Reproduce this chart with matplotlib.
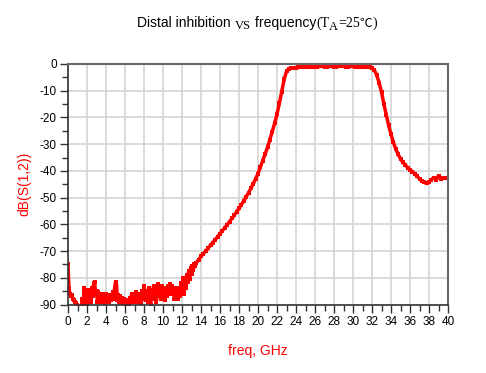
import numpy as np
import matplotlib
matplotlib.use('Agg')
import matplotlib.pyplot as plt
from matplotlib.ticker import MultipleLocator

# noisy stop band, 0 .. 13.4 GHz every 0.1 GHz
noise_freq = np.round(np.arange(0, 13.45, 0.1), 2)
noise_db = [
    -75, -84, -86, -87, -86.5, -88, -88.5, -89, -89.5, -90,
    -91, -91, -91, -91, -91, -88, -90, -84, -89, -85,
    -90, -84.5, -88, -85, -89, -84, -87, -82, -81.5, -86,
    -85, -89, -85.5, -88, -86, -89, -86.5, -88, -86, -89.5,
    -86, -88, -87, -89, -86.5, -88.5, -87, -85.5, -88, -84,
    -81.5, -82, -88.5, -86.5, -89, -87, -89.5, -87.5, -89, -88,
    -90, -88.5, -90, -89, -90, -87.5, -89, -86, -88, -86.5,
    -89, -87, -85.5, -88, -86, -89, -86.5, -89.5, -85, -88,
    -83, -86, -88.5, -85, -89, -84, -87, -90, -84.5, -88,
    -83, -87, -84, -89, -85, -82.5, -87, -84, -88, -83,
    -86, -84, -88.5, -84.5, -87, -83, -86, -82.5, -85.5, -83,
    -86, -84, -88, -84.5, -87.5, -84, -88, -84.5, -87, -82,
    -85, -80, -86, -81, -84, -79, -81.5, -77.5, -80.5, -76.5,
    -78.5, -75.5, -77, -75, -75.5,
]

# skirt, pass band and upper stop band, 13.5 .. 40 GHz every 0.25 GHz
band_freq = np.round(np.arange(13.5, 40.01, 0.25), 2)
band_db = [
    -74.5, -73.2, -72, -71, -70, -68.9, -67.8, -66.8, -65.7, -64.6,
    -63.5, -62.4, -61.3, -60.2, -59, -57.8, -56.6, -55.3, -54, -52.6,
    -51.2, -49.7, -48.2, -46.5, -44.8, -43, -41, -38.6, -36.2, -33.7,
    -31.2, -28.3, -25.3, -22.2, -18.8, -14.7, -10.3, -5.8, -2.8, -1.7,
    -1.5, -1.5, -1.4, -1.3, -1.2, -1.1, -1.05, -1.0, -1.0, -1.0,
    -0.95, -0.95, -0.9, -0.9, -0.95, -0.95, -0.9, -0.9, -0.95, -0.95,
    -0.9, -0.9, -0.9, -0.95, -0.95, -0.9, -0.9, -0.95, -0.95, -1.0,
    -1.0, -1.05, -1.15, -1.3, -1.6, -2.3, -4.2, -7, -10.5, -15,
    -19, -23, -26.3, -29.3, -31.8, -33.8, -35.5, -36.8, -37.8, -38.8,
    -39.6, -40.3, -41, -42, -43, -43.8, -44.3, -44.7, -44.2, -43.3,
    -42.5, -43.4, -41.8, -43.2, -42.7, -42.7, -42.7,
]

freq = np.concatenate([noise_freq, band_freq])
s12 = np.concatenate([noise_db, band_db])

plt.rcParams['axes.unicode_minus'] = False

red = '#ff0000'
sans = ['Liberation Sans', 'DejaVu Sans']
serif = ['Liberation Serif', 'Noto Sans CJK SC', 'DejaVu Serif']

fig = plt.figure(figsize=(4.86, 3.73), dpi=100)
ax = fig.add_axes([68 / 486, 1 - 304.5 / 373, 380 / 486, 240.5 / 373])

ax.plot(freq, s12, color=red, lw=2.5, marker='s', ms=2.3, mew=0)

ax.set_xlim(0, 40)
ax.set_ylim(-90, 0)
ax.xaxis.set_major_locator(MultipleLocator(2))
ax.xaxis.set_minor_locator(MultipleLocator(1))
ax.yaxis.set_major_locator(MultipleLocator(10))
ax.yaxis.set_minor_locator(MultipleLocator(5))
ax.grid(True, which='major', color='#d4d4d4', lw=1.2)
ax.set_axisbelow(True)

ax.tick_params(which='major', direction='out', length=6, width=1, colors='#333333', labelcolor='black', pad=2)
ax.tick_params(which='minor', direction='out', length=4, width=1, colors='#333333')
for lab in ax.get_xticklabels() + ax.get_yticklabels():
    lab.set_family(sans)
    lab.set_fontsize(8.5)

for side in ['left', 'bottom']:
    ax.spines[side].set_color('#333333')
    ax.spines[side].set_linewidth(1.2)
for side in ['top', 'right']:
    ax.spines[side].set_color('#666666')
    ax.spines[side].set_linewidth(1.5)

ax.set_xlabel('freq, GHz', color=red, family=sans, fontsize=10, labelpad=12)
ax.set_ylabel('dB(S(1,2))', color=red, family=sans, fontsize=10, labelpad=6)

# title made of pieces in two faces, as in the original
pieces = [
    ('Distal inhibition ', sans, 10, 0),
    ('VS', serif, 9, -2),
    (' frequency', sans, 10, 0),
    ('(T', serif, 10, 0),
    ('A', serif, 9, -3),
    ('=25', serif, 10, 0),
    ('\u2103', ['Noto Sans CJK SC', 'DejaVu Sans'], 9, 0),
    (')', serif, 10, 0),
]
renderer = fig.canvas.get_renderer()
texts = []
total = 0
for s, fam, size, dy in pieces:
    t = fig.text(0, 0, s, family=fam, fontsize=size, va='baseline')
    w = t.get_window_extent(renderer).width
    texts.append((t, w, dy))
    total += w
x0 = 257 - total / 2
base = 373 - 27
for t, w, dy in texts:
    t.set_position((x0 / 486, (base + dy) / 373))
    x0 += w

fig.savefig('out.png', dpi=100)
